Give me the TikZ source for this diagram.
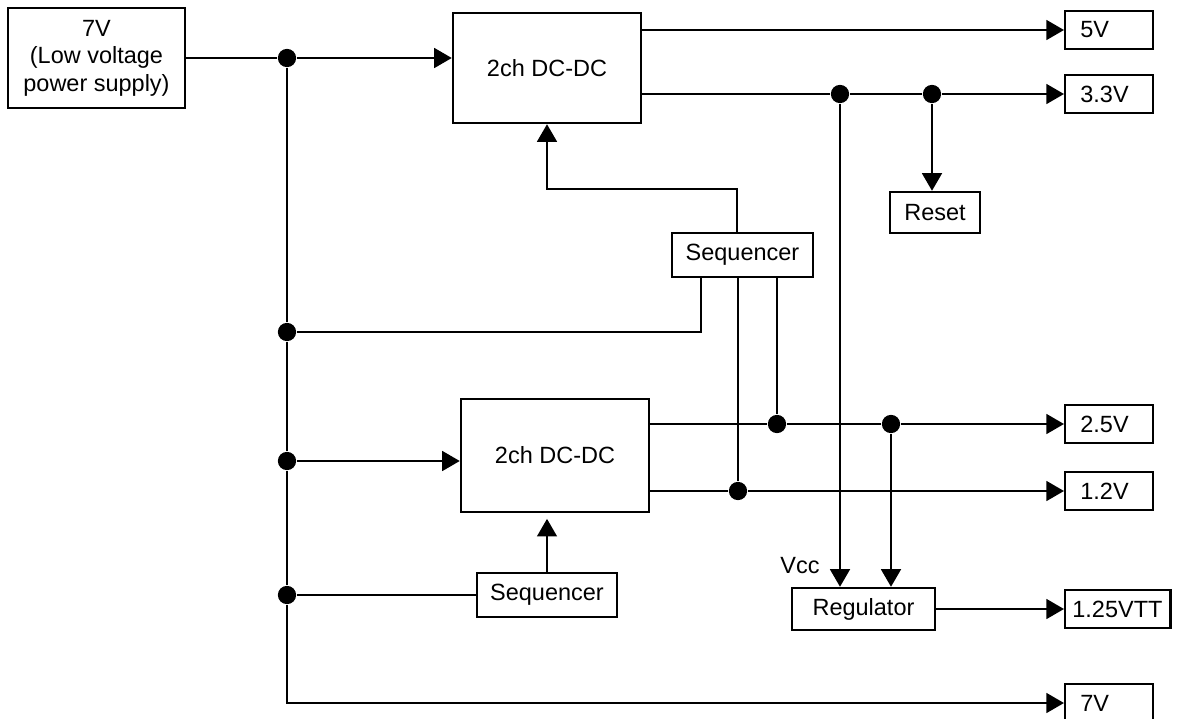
\documentclass[tikz,border=0pt]{standalone}
\usepackage{fontspec}
\setmainfont{Liberation Sans}
\usepackage{tikz}
\usetikzlibrary{arrows.meta}

\begin{document}
\begin{tikzpicture}[x=0.025cm, y=-0.025cm, line width=1.7pt,
  every node/.style={font=\fontsize{16.7}{19.5}\selectfont},
  blk/.style={draw, inner sep=0pt},
  outbox/.style={draw, anchor=west, minimum height=0.95cm, text width=1.44cm, align=left, inner xsep=0.38cm, inner ysep=0pt},
  dot/.style={circle, fill, inner sep=0pt, minimum size=13pt},
  arr/.style={-{Triangle[length=12.5pt, width=14pt]}}]
\useasboundingbox (0,0) rectangle (1185,718);
\node[blk, minimum width=4.425cm, minimum height=2.5cm, align=center] (supply) at (96.5,58) {7V\\(Low voltage\\power supply)};
\node[blk, minimum width=4.7cm, minimum height=2.75cm] (dca) at (547,68) {2ch DC-DC};
\node[blk, minimum width=4.7cm, minimum height=2.825cm] (dcb) at (555,455.5) {2ch DC-DC};
\node[blk, minimum width=3.525cm, minimum height=1.1cm] (seqa) at (742.5,255) {Sequencer};
\node[blk, minimum width=3.5cm, minimum height=1.1cm] (seqb) at (547,595) {Sequencer};
\node[blk, minimum width=2.25cm, minimum height=1.025cm] (reset) at (935,212.5) {Reset};
\node[blk, minimum width=3.575cm, minimum height=1.05cm] (reg) at (863.5,609) {Regulator};
\node[outbox] (o5) at (1064,30) {5V};
\node[outbox] (o33) at (1064,94) {3.3V};
\node[outbox] (o25) at (1064,424) {2.5V};
\node[outbox] (o12) at (1064,491) {1.2V};
\node[outbox, text width=2.27cm, inner xsep=0.18cm] (ovtt) at (1064,609) {1.25VTT};
\node[outbox] (o7) at (1064,703) {7V};
\node (vcc) at (800,566) {Vcc};
\node[dot] (j1) at (287,58) {};
\node[dot] (j2) at (287,332) {};
\node[dot] (j3) at (287,461) {};
\node[dot] (j4) at (287,595) {};
\node[dot] (j5) at (840,94) {};
\node[dot] (j6) at (932,94) {};
\node[dot] (j7) at (777,424) {};
\node[dot] (j8) at (891,424) {};
\node[dot] (j9) at (738,491) {};
\coordinate (sq) at (737,189);
\draw[arr] (supply.east) -- (j1) -- (j1 -| dca.west);
\draw (j1) -- (j2) -- (j3) -- (j4);
\draw[arr] (j4) |- (o7.west);
\draw[arr] (dca.east |- o5.west) -- (o5.west);
\draw[arr] (dca.east |- o33.west) -- (j5) -- (j6) -- (o33.west);
\draw[arr] (j6) -- (j6 |- reset.north);
\draw[arr] (j5) -- (j5 |- reg.north);
\draw[arr] (j8) -- (j8 |- reg.north);
\draw[arr] (seqa.north -| sq) -- (sq) -| (dca.south);
\draw (j2) -| ([xshift=-1.04cm]seqa.south);
\draw (seqa.south -| j9) -- (j9);
\draw (seqa.south -| j7) -- (j7);
\draw[arr] (j3) -- (j3 -| dcb.west);
\draw[arr] (dcb.east |- o25.west) -- (j7) -- (j8) -- (o25.west);
\draw[arr] (dcb.east |- o12.west) -- (j9) -- (o12.west);
\draw (j4) -- (seqb.west);
\draw[arr, shorten >=4pt] (seqb.north) -- (seqb.north |- dcb.south);
\draw[arr] (reg.east) -- (ovtt.west);
\end{tikzpicture}
\end{document}
